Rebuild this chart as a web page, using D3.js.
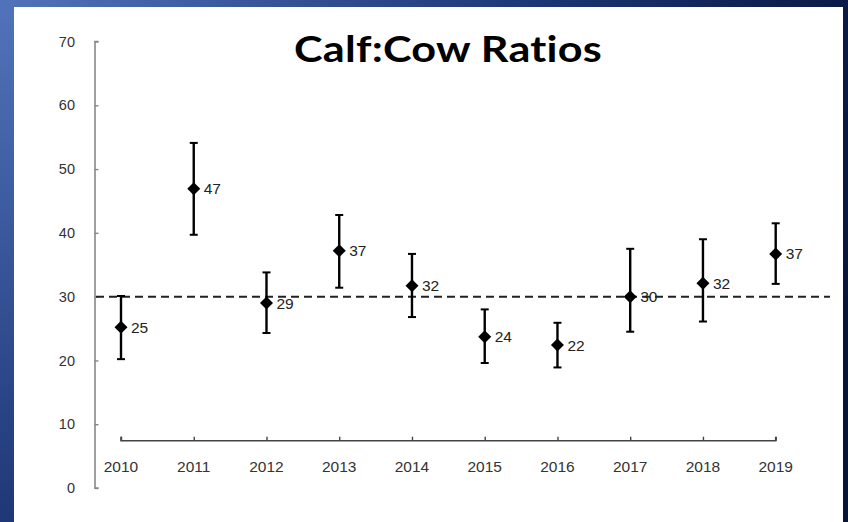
<!DOCTYPE html>
<html><head><meta charset="utf-8">
<script src="https://cdn.jsdelivr.net/npm/d3@7"></script>
<style>html,body{margin:0;padding:0;background:#fff;}svg{display:block;}</style>
</head><body>
<svg id="chart" width="848" height="522"></svg>
<script>
const years = ["2010","2011","2012","2013","2014","2015","2016","2017","2018","2019"];
const ratios = [25.2, 46.9, 29.0, 37.2, 31.7, 23.7, 22.4, 30.0, 32.1, 36.7];
const lower = [20.2, 39.7, 24.3, 31.4, 26.8, 19.6, 18.9, 24.5, 26.1, 32.0];
const upper = [30.1, 54.1, 33.8, 42.8, 36.7, 28.0, 25.9, 37.5, 39.0, 41.5];
const labels = ["25","47","29","37","32","24","22","30","32","37"];
const yTicks = [0,10,20,30,40,50,60,70];
const reference = 30;
const title = "Calf:Cow Ratios";

const svg = d3.select("#chart");
const defs = svg.append("defs");
const rg = defs.append("radialGradient").attr("id","bg").attr("gradientUnits","userSpaceOnUse")
  .attr("cx",0).attr("cy",0).attr("r",900);
rg.append("stop").attr("offset",0).attr("stop-color","#5273bb");
rg.append("stop").attr("offset",0.6).attr("stop-color","#1c3574");
rg.append("stop").attr("offset",1).attr("stop-color","#07153d");
svg.append("rect").attr("width",848).attr("height",522).attr("fill","url(#bg)");
svg.append("rect").attr("x",14).attr("y",7).attr("width",829).attr("height",515).attr("fill","#fff");

const y = d3.scaleLinear().domain([0,70]).range([488,41.5]);
const x = d3.scalePoint().domain(years).range([121,775.7]);

// y axis
const yAxis = d3.axisRight(y).tickValues(yTicks).tickSize(4).tickFormat("");
const ya = svg.append("g").attr("transform","translate(94.5,0)").call(yAxis);
ya.select(".domain").attr("stroke","#888").attr("stroke-width",1.6).attr("d","M4,41.5H0.5V488H4");
ya.selectAll(".tick line").attr("stroke","#888").attr("stroke-width",1.4);
svg.append("g").selectAll("text").data(yTicks).join("text")
  .attr("x",75).attr("y",d=>y(d)).attr("text-anchor","end").attr("dy","0.35em")
  .attr("font-family","Liberation Sans, Arial, sans-serif").attr("font-size",14.5)
  .attr("fill","#333").text(d=>d);

// x axis
const xAxisY = 440.7;
const xAxis = d3.axisTop(x).tickSize(4).tickFormat("");
const xa = svg.append("g").attr("transform",`translate(0,${xAxisY})`).call(xAxis);
xa.select(".domain").attr("stroke","#444").attr("stroke-width",1.6)
  .attr("d",`M${x(years[0])},-4V0H${x(years[years.length-1])}V-4`);
xa.selectAll(".tick line").attr("stroke","#444").attr("stroke-width",1.4);
svg.append("g").selectAll("text").data(years).join("text")
  .attr("x",d=>x(d)).attr("y",467).attr("text-anchor","middle").attr("dy","0.35em")
  .attr("font-family","Liberation Sans, Arial, sans-serif").attr("font-size",15.5)
  .attr("fill","#333").text(d=>d);

// reference dashed line
svg.append("line").attr("x1",96).attr("x2",830).attr("y1",y(reference)).attr("y2",y(reference))
  .attr("stroke","#222").attr("stroke-width",2).attr("stroke-dasharray","8,5");

// error bars
const g = svg.append("g");
years.forEach((yr,i)=>{
  const cx = x(yr);
  g.append("line").attr("x1",cx).attr("x2",cx).attr("y1",y(lower[i])).attr("y2",y(upper[i]))
    .attr("stroke","#000").attr("stroke-width",2.4);
  [lower[i],upper[i]].forEach(v=>{
    g.append("line").attr("x1",cx-4).attr("x2",cx+4).attr("y1",y(v)).attr("y2",y(v))
      .attr("stroke","#000").attr("stroke-width",2);
  });
  g.append("path").attr("transform",`translate(${cx},${y(ratios[i])})`)
    .attr("d","M0,-6.5L6.5,0L0,6.5L-6.5,0Z").attr("fill","#000");
  g.append("text").attr("x",cx+10).attr("y",y(ratios[i])).attr("dy","0.36em")
    .attr("font-family","Liberation Sans, Arial, sans-serif").attr("font-size",15.5)
    .attr("fill","#222").text(labels[i]);
});

// title
svg.append("text").attr("x",448).attr("y",62).attr("text-anchor","middle")
  .attr("font-family","Lato, 'Open Sans', sans-serif").attr("font-weight","bold")
  .attr("font-size",37).attr("fill","#000").attr("letter-spacing","0.2")
  .style("font-variant-ligatures","none").style("font-feature-settings","'liga' 0, 'clig' 0, 'dlig' 0")
  .attr("textLength",308).attr("lengthAdjust","spacingAndGlyphs").text(title);
</script>
</body></html>
